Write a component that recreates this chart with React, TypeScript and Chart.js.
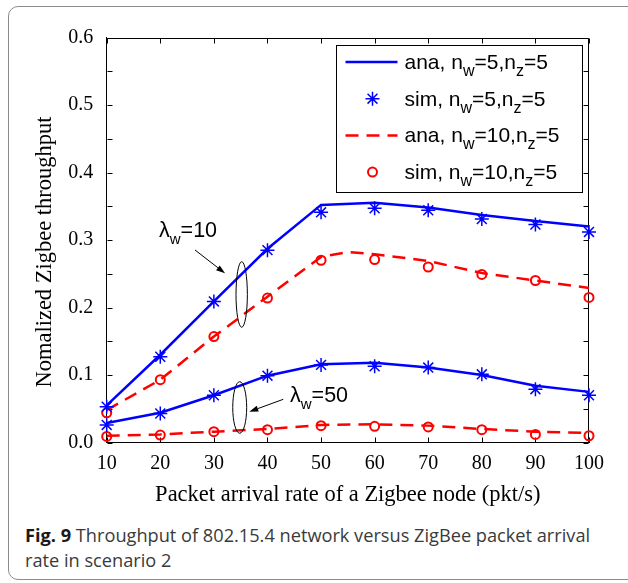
import React, { useEffect, useRef } from "react";
import { Chart, registerables } from "chart.js";

Chart.register(...registerables);

// Packet arrival rate of a Zigbee node (pkt/s)
const rates = [10, 20, 30, 40, 50, 60, 70, 80, 90, 100];
const ratesDashed10 = [10, 20, 30, 40, 50, 55, 60, 70, 80, 90, 100];

// lambda_w = 10
const anaNw5L10 = [0.055, 0.130, 0.209, 0.287, 0.352, 0.355, 0.348, 0.337, 0.328, 0.320];
const simNw5L10 = [0.053, 0.127, 0.209, 0.285, 0.341, 0.347, 0.344, 0.331, 0.323, 0.312];
const anaNw10L10 = [0.048, 0.093, 0.157, 0.216, 0.275, 0.282, 0.279, 0.269, 0.251, 0.240, 0.229];
const simNw10L10 = [0.044, 0.093, 0.157, 0.214, 0.270, 0.271, 0.260, 0.249, 0.240, 0.215];

// lambda_w = 50
const anaNw5L50 = [0.029, 0.044, 0.070, 0.099, 0.116, 0.118, 0.111, 0.100, 0.084, 0.075];
const simNw5L50 = [0.026, 0.043, 0.070, 0.099, 0.115, 0.113, 0.111, 0.101, 0.079, 0.070];
const anaNw10L50 = [0.010, 0.012, 0.016, 0.020, 0.026, 0.027, 0.025, 0.020, 0.016, 0.014];
const simNw10L50 = [0.009, 0.011, 0.016, 0.019, 0.025, 0.024, 0.023, 0.019, 0.012, 0.010];

const yMin = 0;
const yMax = 0.6;
const yStep = 0.1;
const yMinorStep = 0.05;
const xMin = 10;
const xMax = 100;
const xStep = 10;

const xTitle = "Packet arrival rate of a Zigbee node (pkt/s)";
const yTitle = "Nomalized Zigbee throughput";

// Rich-text labels: even pieces are normal text, odd pieces are subscripts
const legendLabels = [
  ["ana, n", "w", "=5,n", "z", "=5"],
  ["sim, n", "w", "=5,n", "z", "=5"],
  ["ana, n", "w", "=10,n", "z", "=5"],
  ["sim, n", "w", "=10,n", "z", "=5"],
];

const groupLabels = [
  ["λ", "w", "=10"],
  ["λ", "w", "=50"],
];

const BLUE = "#0000ff";
const RED = "#ff0000";
const SERIF = "'Liberation Serif', 'Times New Roman', serif";
const SANS = "'Liberation Sans', Arial, sans-serif";

const pts = (xs: number[], ys: number[]) => xs.map((x, i) => ({ x, y: ys[i] }));

// Annotation geometry in data units: text anchor, arrow, ellipse (cx, cy, rx, ry)
const notes = [
  { label: groupLabels[0], text: [19.76, 0.3044], from: [26.48, 0.2852], to: [32.08, 0.2507], ell: [35.19, 0.2193, 1.06, 0.0486] },
  { label: groupLabels[1], text: [44.21, 0.0604], from: [42.95, 0.064], to: [36.61, 0.0456], ell: [34.82, 0.0519, 1.3, 0.0382] },
];

function drawRich(ctx: CanvasRenderingContext2D, parts: string[], x: number, baseline: number, main: number, sub: number, drop: number) {
  let cx = x;
  ctx.textAlign = "left";
  ctx.textBaseline = "alphabetic";
  parts.forEach((p, i) => {
    const isSub = i % 2 === 1;
    ctx.font = `${isSub ? sub : main}px ${SANS}`;
    ctx.fillText(p, cx, baseline + (isSub ? drop : 0));
    cx += ctx.measureText(p).width;
  });
}

function drawStar(ctx: CanvasRenderingContext2D, x: number, y: number, r: number) {
  ctx.beginPath();
  for (let k = 0; k < 4; k++) {
    const a = (k * Math.PI) / 4;
    ctx.moveTo(x - r * Math.cos(a), y - r * Math.sin(a));
    ctx.lineTo(x + r * Math.cos(a), y + r * Math.sin(a));
  }
  ctx.stroke();
}

const axesBoxPlugin = {
  id: "axesBox",
  beforeDatasetsDraw(chart: any) {
    const { ctx, chartArea: a, scales } = chart;
    const xs = scales.x;
    const ys = scales.y;
    ctx.save();
    ctx.strokeStyle = "#000";
    ctx.lineWidth = 1;
    const L = Math.round(a.left) + 0.5;
    const R = Math.round(a.right) - 0.5;
    const T = Math.round(a.top) + 0.5;
    const B = Math.round(a.bottom) - 0.5;
    ctx.beginPath();
    ctx.moveTo(L, T);
    ctx.lineTo(R, T);
    ctx.lineTo(R, B);
    ctx.stroke();
    const tick = 5;
    ctx.beginPath();
    for (let v = yMin; v <= yMax + 1e-9; v += yMinorStep) {
      const py = Math.round(ys.getPixelForValue(v)) + 0.5;
      ctx.moveTo(L, py);
      ctx.lineTo(L + tick, py);
      ctx.moveTo(R, py);
      ctx.lineTo(R - tick, py);
    }
    for (let v = xMin; v <= xMax + 1e-9; v += xStep) {
      const px = Math.round(xs.getPixelForValue(v)) + 0.5;
      ctx.moveTo(px, B);
      ctx.lineTo(px, B - tick);
      ctx.moveTo(px, T);
      ctx.lineTo(px, T + tick);
    }
    ctx.stroke();
    ctx.restore();
  },
  afterDraw(chart: any) {
    const { ctx, chartArea: a, scales } = chart;
    const xs = scales.x;
    const ys = scales.y;
    ctx.save();

    // axis titles
    ctx.fillStyle = "#000";
    ctx.font = `22.5px ${SERIF}`;
    ctx.textAlign = "center";
    ctx.textBaseline = "middle";
    ctx.fillText(xTitle, (a.left + a.right) / 2, a.bottom + 53);
    ctx.save();
    ctx.translate(45, (a.top + a.bottom) / 2 + 12);
    ctx.rotate(-Math.PI / 2);
    ctx.fillText(yTitle, 0, 0);
    ctx.restore();

    // group annotations: label, arrow and ellipse
    notes.forEach((n) => {
      ctx.fillStyle = "#000";
      drawRich(ctx, n.label, xs.getPixelForValue(n.text[0]), ys.getPixelForValue(n.text[1]), 21.5, 15, 7);
      const x1 = xs.getPixelForValue(n.from[0]);
      const y1 = ys.getPixelForValue(n.from[1]);
      const x2 = xs.getPixelForValue(n.to[0]);
      const y2 = ys.getPixelForValue(n.to[1]);
      const ang = Math.atan2(y2 - y1, x2 - x1);
      const hl = 9;
      const hw = 3;
      ctx.strokeStyle = "#000";
      ctx.lineWidth = 1;
      ctx.beginPath();
      ctx.moveTo(x1, y1);
      ctx.lineTo(x2 - hl * Math.cos(ang), y2 - hl * Math.sin(ang));
      ctx.stroke();
      ctx.beginPath();
      ctx.moveTo(x2, y2);
      ctx.lineTo(x2 - hl * Math.cos(ang) + hw * Math.sin(ang), y2 - hl * Math.sin(ang) - hw * Math.cos(ang));
      ctx.lineTo(x2 - hl * Math.cos(ang) - hw * Math.sin(ang), y2 - hl * Math.sin(ang) + hw * Math.cos(ang));
      ctx.closePath();
      ctx.fill();
      const cx = xs.getPixelForValue(n.ell[0]);
      const cy = ys.getPixelForValue(n.ell[1]);
      const rx = Math.abs(xs.getPixelForValue(n.ell[0] + n.ell[2]) - cx);
      const ry = Math.abs(ys.getPixelForValue(n.ell[1] + n.ell[3]) - cy);
      ctx.beginPath();
      ctx.ellipse(cx, cy, rx, ry, 0, 0, Math.PI * 2);
      ctx.stroke();
    });

    // legend box
    const w = 246;
    const h = 147;
    const bx = Math.round(a.right - 7 - w) + 0.5;
    const by = Math.round(a.top + 7.5) + 0.5;
    ctx.fillStyle = "#fff";
    ctx.fillRect(bx, by, w, h);
    ctx.strokeStyle = "#000";
    ctx.lineWidth = 1;
    ctx.strokeRect(bx, by, w, h);
    legendLabels.forEach((parts, i) => {
      const ds = chart.data.datasets[i];
      const cy = by + 16.5 + i * 36.7;
      ctx.save();
      ctx.strokeStyle = ds.borderColor;
      if (ds.showLine === false) {
        ctx.lineWidth = ds.pointBorderWidth;
        if (ds.pointStyle === "star") {
          drawStar(ctx, bx + 36, cy, ds.pointRadius);
        } else {
          ctx.beginPath();
          ctx.arc(bx + 36, cy, ds.pointRadius, 0, Math.PI * 2);
          ctx.stroke();
        }
      } else {
        ctx.lineWidth = ds.borderWidth;
        ctx.setLineDash(ds.borderDash || []);
        ctx.beginPath();
        ctx.moveTo(bx + 9, cy);
        ctx.lineTo(bx + 61, cy);
        ctx.stroke();
      }
      ctx.restore();
      ctx.fillStyle = "#000";
      drawRich(ctx, parts, bx + 68, cy + 7, 21, 16, 7);
    });
    ctx.restore();
  },
};

function solid(data: { x: number; y: number }[]) {
  return { data, borderColor: BLUE, borderWidth: 2.5, pointRadius: 0, tension: 0, clip: false as any };
}
function dashed(data: { x: number; y: number }[]) {
  return { data, borderColor: RED, borderWidth: 2.5, borderDash: [13, 8], pointRadius: 0, tension: 0, clip: false as any };
}
function stars(data: { x: number; y: number }[]) {
  return { data, showLine: false, pointStyle: "star", pointRadius: 7, pointBorderWidth: 1.5, borderColor: BLUE, pointBorderColor: BLUE, backgroundColor: BLUE, clip: false as any };
}
function circles(data: { x: number; y: number }[]) {
  return { data, showLine: false, pointStyle: "circle", pointRadius: 4.5, pointBorderWidth: 2, borderColor: RED, pointBorderColor: RED, pointBackgroundColor: "rgba(0,0,0,0)", backgroundColor: "rgba(0,0,0,0)", clip: false as any };
}

export default function App() {
  const ref = useRef<HTMLCanvasElement | null>(null);

  useEffect(() => {
    if (!ref.current) return;
    const tickFont = { family: SERIF, size: 20 };
    const chart = new Chart(ref.current, {
      type: "line",
      data: {
        datasets: [
          solid(pts(rates, anaNw5L10)),
          stars(pts(rates, simNw5L10)),
          dashed(pts(ratesDashed10, anaNw10L10)),
          circles(pts(rates, simNw10L10)),
          solid(pts(rates, anaNw5L50)),
          stars(pts(rates, simNw5L50)),
          dashed(pts(rates, anaNw10L50)),
          circles(pts(rates, simNw10L50)),
        ] as any,
      },
      options: {
        animation: false,
        responsive: false,
        devicePixelRatio: 1,
        events: [],
        layout: { padding: { left: 0, right: 39, top: 37.5, bottom: 0 } },
        plugins: { legend: { display: false }, tooltip: { enabled: false } },
        scales: {
          x: {
            type: "linear",
            min: xMin,
            max: xMax,
            ticks: { stepSize: xStep, font: tickFont, color: "#000", padding: 9, maxRotation: 0 },
            grid: { display: false, drawTicks: false },
            border: { display: true, color: "#000", width: 1 },
            afterFit: (s: any) => {
              s.height = 77.5;
            },
          },
          y: {
            type: "linear",
            min: yMin,
            max: yMax,
            ticks: { stepSize: yStep, font: tickFont, color: "#000", padding: 13.5, callback: (v: any) => Number(v).toFixed(1) },
            grid: { display: false, drawTicks: false },
            border: { display: true, color: "#000", width: 1 },
            afterFit: (s: any) => {
              s.width = 106.7;
            },
          },
        },
      } as any,
      plugins: [axesBoxPlugin],
    });
    return () => chart.destroy();
  }, []);

  return (
    <div style={{ position: "absolute", left: 0, top: 0, width: 628, height: 583, overflow: "hidden", background: "#fff" }}>
      <div
        style={{
          position: "absolute",
          left: 8,
          top: 6,
          width: 700,
          height: 574,
          border: "1.5px solid #8c8c8c",
          borderRadius: 10,
          boxSizing: "border-box",
        }}
      />
      <canvas ref={ref} width={628} height={520} style={{ position: "absolute", left: 0, top: 0, width: 628, height: 520 }} />
      <div
        style={{
          position: "absolute",
          left: 25,
          top: 523,
          fontFamily: "'Open Sans', 'Noto Sans', sans-serif",
          fontSize: 18.2,
          lineHeight: "25px",
          color: "#3a3a3a",
          whiteSpace: "nowrap",
        }}
      >
        <b style={{ color: "#1a1a1a" }}>Fig. 9</b> Throughput of 802.15.4 network versus ZigBee packet arrival
        <br />
        rate in scenario 2
      </div>
    </div>
  );
}
